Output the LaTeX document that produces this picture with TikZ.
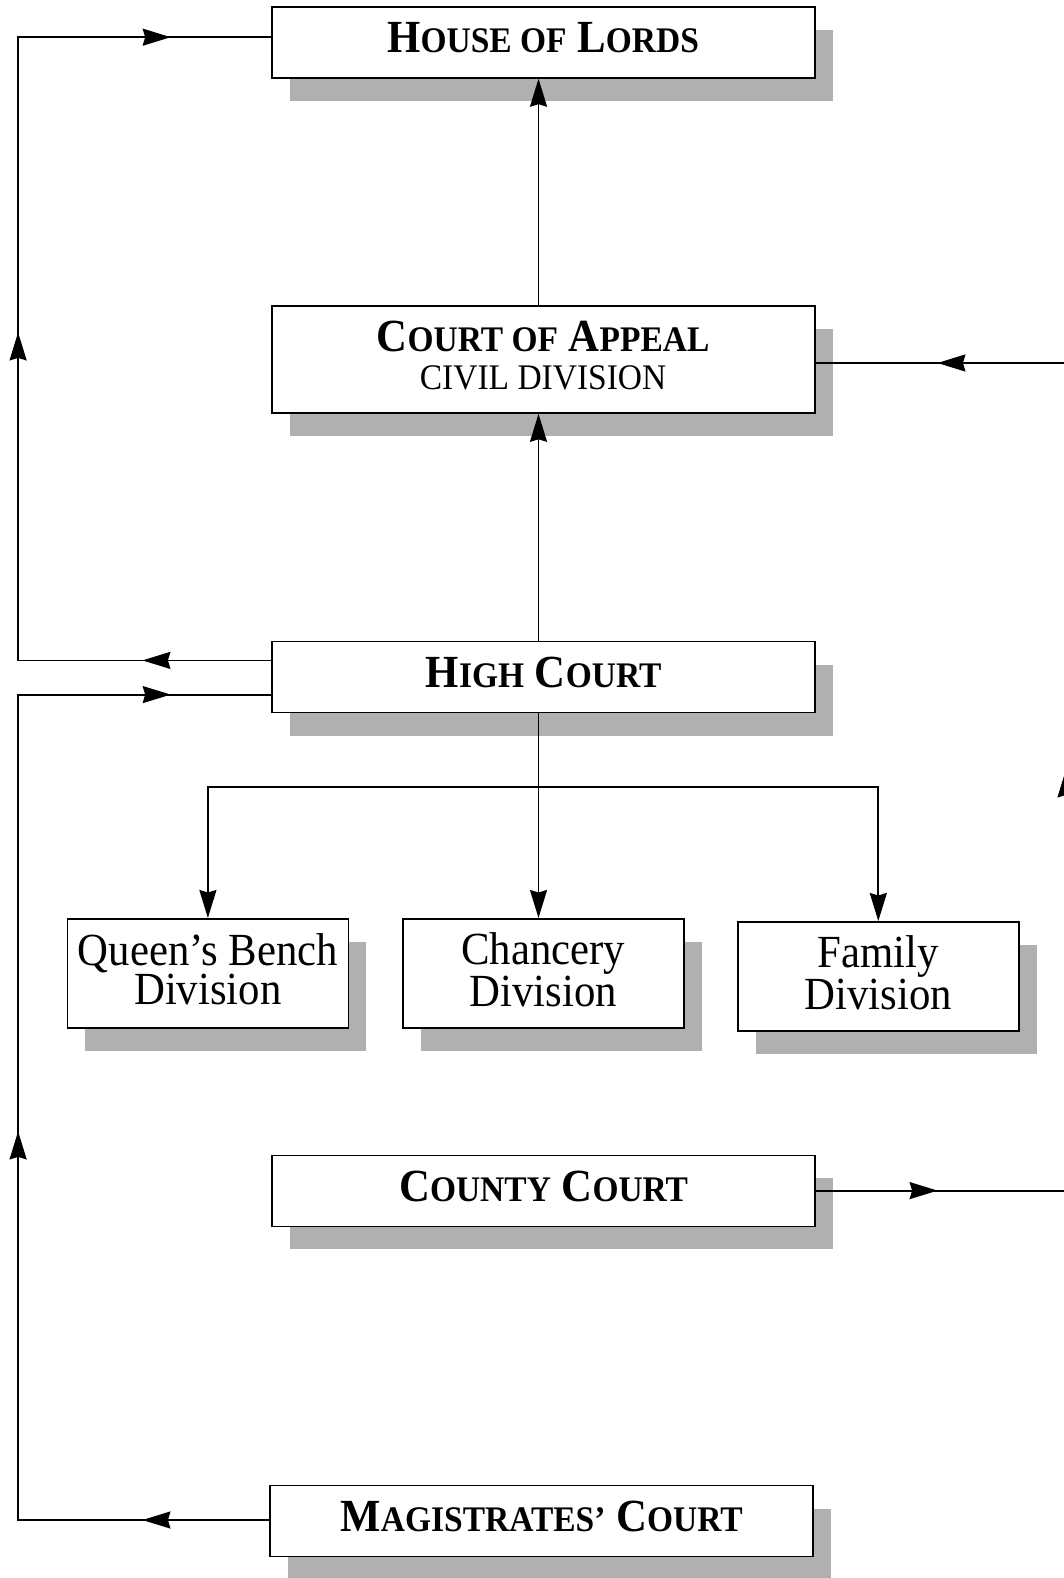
\documentclass[tikz,border=0pt]{standalone}
\usepackage{fontspec}
\setmainfont[FakeStretch=0.93]{Liberation Serif}
\usetikzlibrary{arrows.meta,decorations.markings,shadows}

% reduced capitals standing in for small caps
\newcommand\lowcaps[1]{{\fontsize{36}{36}\selectfont #1}}

\tikzset{
  x=1pt, y=-1pt,
  >={Stealth[length=28pt,width=17pt,inset=2.5pt]},
  wire/.style={line width=1.8pt},
  boxbase/.style={draw, line width=1.8pt, fill=white, inner sep=0pt, align=center,
    drop shadow={shadow xshift=18pt, shadow yshift=-23pt, fill=black!31, opacity=1}},
  court/.style={boxbase, minimum width=543pt, minimum height=71pt, text depth=10pt,
    font=\fontsize{46}{40}\selectfont\bfseries},
  division/.style={boxbase, minimum width=281pt, minimum height=109pt, text depth=8pt,
    font=\fontsize{46}{39}\selectfont},
}

\begin{document}
\begin{tikzpicture}
\useasboundingbox (0,0) rectangle (1063,1578);

% courts, top to bottom
\node[court] (lords)  at (543.1,42.3)   {H\lowcaps{OUSE OF} L\lowcaps{ORDS}};
\node[court, minimum height=107pt, text depth=9pt] (appeal) at (543.1,359.4)
  {C\lowcaps{OURT OF} A\lowcaps{PPEAL}\\[-2pt]{\mdseries\lowcaps{CIVIL DIVISION}}};
\node[court] (high)   at (543.6,677)    {H\lowcaps{IGH} C\lowcaps{OURT}};
\node[division] (qb)  at (207.9,973.4)  {Queen’s Bench\\Division};
\node[division] (ch)  at (543.1,973.4)  {Chancery\\Division};
\node[division] (fam) at (878.3,976.4)  {Family\\Division};
\node[court] (county) at (543.6,1190.9) {C\lowcaps{OUNTY} C\lowcaps{OURT}};
\node[court] (mag)    at (541.6,1521)   {M\lowcaps{AGISTRATES’} C\lowcaps{OURT}};

% routing points
\coordinate (bus) at (538.5,787);
\coordinate (cA) at (18.1,660.4);
\coordinate (cB) at (18.1,37.2);
\coordinate (cC) at (18.1,694.6);
\coordinate (cD) at (18.1,1520);
\coordinate (cE) at (1066,1190.6);
\coordinate (cF) at (1066,363);

% central appeal line
\draw[wire,->] (high.north -| bus) -- (appeal.south -| bus);
\draw[wire,->] (appeal.north -| bus) -- (lords.south -| bus);

% High Court divisions
\draw[wire,->] (high.south -| bus) -- (bus) -| (qb.north);
\draw[wire,->] (bus) -| (fam.north);
\draw[wire,->] (bus) -- (ch.north -| bus);

% leapfrog from High Court to House of Lords
\draw[wire, postaction={decorate}, decoration={markings,
    mark=at position 128.8pt with {\arrow{>}},
    mark=at position 581.1pt with {\arrow{>}},
    mark=at position 1028.9pt with {\arrow{>}}}]
  (cA -| high.west) -- (cA) -- (cB) -- (cB -| lords.west);

% Magistrates' Court to High Court
\draw[wire, postaction={decorate}, decoration={markings,
    mark=at position 126.8pt with {\arrow{>}},
    mark=at position 639.7pt with {\arrow{>}},
    mark=at position 1229.1pt with {\arrow{>}}}]
  (cD -| mag.west) -- (cD) -- (cC) -- (cC -| high.west);

% County Court to Court of Appeal
\draw[wire, postaction={decorate}, decoration={markings,
    mark=at position 121.6pt with {\arrow{>}},
    mark=at position 671.2pt with {\arrow{>}},
    mark=at position 1206.2pt with {\arrow{>}}}]
  (cE -| county.east) -- (cE) -- (cF) -- (cF -| appeal.east);
\end{tikzpicture}
\end{document}
